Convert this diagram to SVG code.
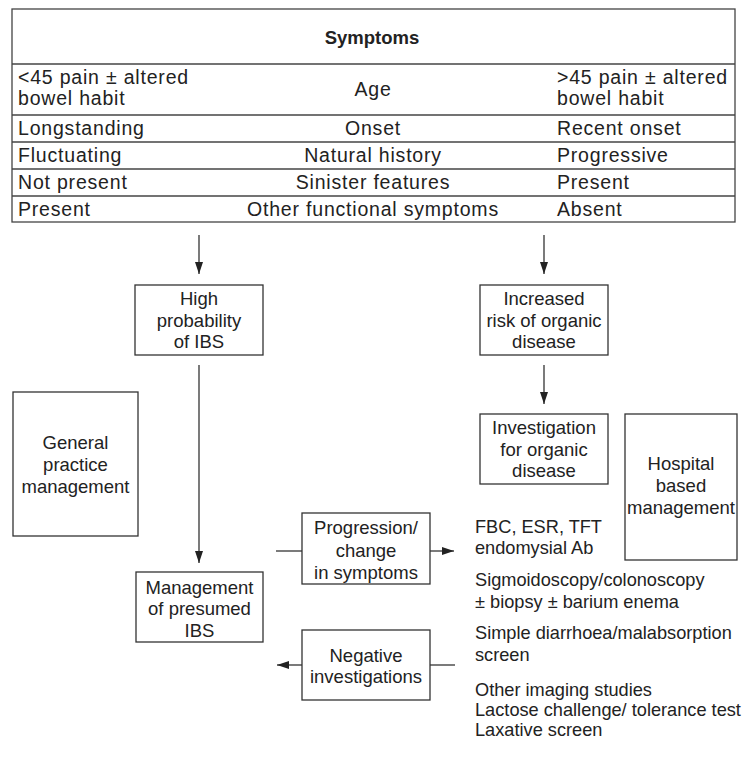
<svg xmlns="http://www.w3.org/2000/svg" width="744" height="765" viewBox="0 0 744 765">
<defs>
<style>
text{font-family:"Liberation Sans",Arial,Helvetica,sans-serif;font-size:18.5px;fill:#222}
.t{font-size:19.5px;letter-spacing:0.8px}
.l{font-size:18.2px}
.c{text-anchor:middle}
.b{font-weight:bold}
.box{fill:none;stroke:#333;stroke-width:1.3}
.ln{fill:none;stroke:#333;stroke-width:1.3}
.tl{fill:none;stroke:#444;stroke-width:1.3}
</style>
<marker id="ah" viewBox="0 0 12 8" refX="12" refY="4" markerWidth="12" markerHeight="8" markerUnits="userSpaceOnUse" orient="auto">
<path d="M0,0 L12,4 L0,8 Z" fill="#222"/>
</marker>
</defs>
<rect width="744" height="765" fill="#fff"/>

<g id="table">
<rect class="tl" x="12" y="9" width="723" height="213"/>
<line class="tl" x1="12" y1="64" x2="735" y2="64"/>
<line class="tl" x1="12" y1="115" x2="735" y2="115"/>
<line class="tl" x1="12" y1="142" x2="735" y2="142"/>
<line class="tl" x1="12" y1="169" x2="735" y2="169"/>
<line class="tl" x1="12" y1="196" x2="735" y2="196"/>
<text class="c b" x="372" y="44" style="font-size:18.5px">Symptoms</text>
<text class="t" x="18" y="84">&lt;45 pain ± altered</text>
<text class="t" x="18" y="105">bowel habit</text>
<text class="t c" x="373" y="96">Age</text>
<text class="t" x="557" y="84">&gt;45 pain ± altered</text>
<text class="t" x="557" y="105">bowel habit</text>
<text class="t" x="18" y="135">Longstanding</text>
<text class="t c" x="373" y="135">Onset</text>
<text class="t" x="557" y="135">Recent onset</text>
<text class="t" x="18" y="162">Fluctuating</text>
<text class="t c" x="373" y="162">Natural history</text>
<text class="t" x="557" y="162">Progressive</text>
<text class="t" x="18" y="189">Not present</text>
<text class="t c" x="373" y="189">Sinister features</text>
<text class="t" x="557" y="189">Present</text>
<text class="t" x="18" y="215.5">Present</text>
<text class="t c" x="373" y="215.5">Other functional symptoms</text>
<text class="t" x="557" y="215.5">Absent</text>
</g>

<g id="connectors">
<line class="ln" x1="199" y1="235" x2="199" y2="274" marker-end="url(#ah)"/>
<line class="ln" x1="544" y1="235" x2="544" y2="274" marker-end="url(#ah)"/>
<line class="ln" x1="199" y1="365" x2="199" y2="563" marker-end="url(#ah)"/>
<line class="ln" x1="544" y1="365" x2="544" y2="404" marker-end="url(#ah)"/>
<line class="ln" x1="276" y1="551" x2="302" y2="551"/>
<line class="ln" x1="430" y1="551" x2="454" y2="551" marker-end="url(#ah)"/>
<line class="ln" x1="455" y1="665" x2="430" y2="665"/>
<line class="ln" x1="302" y1="665" x2="277" y2="665" marker-end="url(#ah)"/>
</g>

<g id="high-prob">
<rect class="box" x="135" y="285" width="128" height="70"/>
<text class="c" x="199" y="305">High</text>
<text class="c" x="199" y="327">probability</text>
<text class="c" x="199" y="348">of IBS</text>
</g>

<g id="increased-risk">
<rect class="box" x="480" y="285" width="128" height="70"/>
<text class="c" x="544" y="305">Increased</text>
<text class="c" x="544" y="327">risk of organic</text>
<text class="c" x="544" y="348">disease</text>
</g>

<g id="general-practice">
<rect class="box" x="13" y="392" width="125" height="144"/>
<text class="c" x="75.5" y="449">General</text>
<text class="c" x="75.5" y="471">practice</text>
<text class="c" x="75.5" y="493">management</text>
</g>

<g id="investigation">
<rect class="box" x="480" y="414" width="128" height="70"/>
<text class="c" x="544" y="434">Investigation</text>
<text class="c" x="544" y="456">for organic</text>
<text class="c" x="544" y="477">disease</text>
</g>

<g id="hospital">
<rect class="box" x="625" y="414" width="112" height="146"/>
<text class="c" x="681" y="470">Hospital</text>
<text class="c" x="681" y="492">based</text>
<text class="c" x="681" y="514">management</text>
</g>

<g id="progression">
<rect class="box" x="302" y="513" width="128" height="71"/>
<text class="c" x="366" y="534">Progression/</text>
<text class="c" x="366" y="557">change</text>
<text class="c" x="366" y="579">in symptoms</text>
</g>

<g id="management-ibs">
<rect class="box" x="136" y="572" width="127" height="70"/>
<text class="c" x="199.5" y="594">Management</text>
<text class="c" x="199.5" y="615">of presumed</text>
<text class="c" x="199.5" y="637">IBS</text>
</g>

<g id="negative">
<rect class="box" x="302" y="630" width="128" height="70"/>
<text class="c" x="366" y="662">Negative</text>
<text class="c" x="366" y="683">investigations</text>
</g>

<g id="investigations-list">
<text class="l" x="475" y="533">FBC, ESR, TFT</text>
<text class="l" x="475" y="554">endomysial Ab</text>
<text class="l" x="475" y="586">Sigmoidoscopy/colonoscopy</text>
<text class="l" x="475" y="608">± biopsy ± barium enema</text>
<text class="l" x="475" y="639">Simple diarrhoea/malabsorption</text>
<text class="l" x="475" y="661">screen</text>
<text class="l" x="475" y="696">Other imaging studies</text>
<text class="l" x="475" y="716">Lactose challenge/ tolerance test</text>
<text class="l" x="475" y="736">Laxative screen</text>
</g>
</svg>
